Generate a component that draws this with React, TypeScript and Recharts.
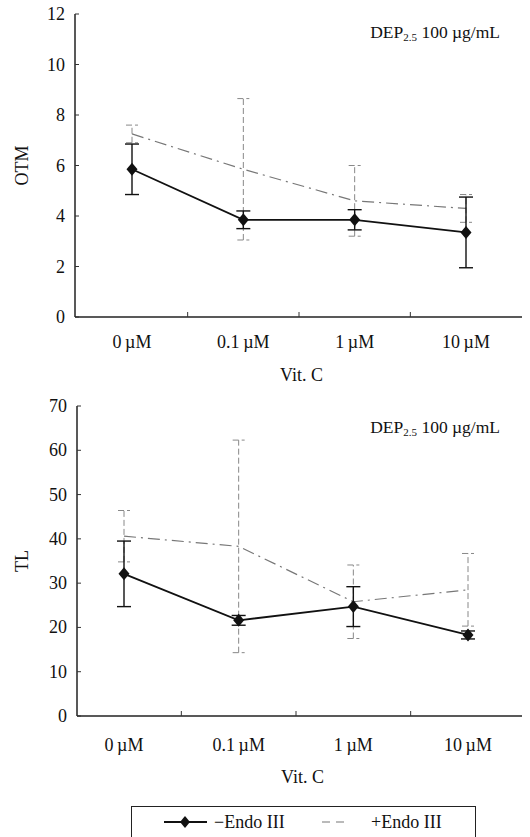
import React from 'react'
import { LineChart, Line, XAxis, YAxis, ErrorBar, Legend, Customized } from 'recharts'

// Vit. C concentrations
const concentrations = ['0\u2009µM', '0.1\u2009µM', '1\u2009µM', '10\u2009µM']

// OTM (top panel)
const otmMinus = [5.85, 3.85, 3.85, 3.35]
const otmMinusErr = [1.0, 0.35, 0.4, 1.4]
const otmPlus = [7.25, 5.85, 4.6, 4.3]
const otmPlusErr = [0.35, 2.8, 1.4, 0.55]
const otmTicks = [0, 2, 4, 6, 8, 10, 12]

// TL (bottom panel)
const tlMinus = [32.1, 21.6, 24.7, 18.3]
const tlMinusErr = [7.4, 1.1, 4.5, 0.9]
const tlPlus = [40.6, 38.3, 25.8, 28.5]
const tlPlusErr = [5.8, 24, 8.3, 8.2]
const tlTicks = [0, 10, 20, 30, 40, 50, 60, 70]

const FONT = '"Liberation Serif", "Times New Roman", serif'
const INK = '#111'

function buildRows(minus: number[], minusErr: number[], plus: number[], plusErr: number[]) {
  return concentrations.map((c, i) => ({
    conc: c,
    minus: minus[i],
    minusErr: minusErr[i],
    plus: plus[i],
    plusErr: plusErr[i],
  }))
}

function Diamond(props: any) {
  const { cx, cy } = props
  if (cx == null || cy == null) return null
  const r = 6.5
  return <polygon points={`${cx},${cy - r} ${cx + r - 1},${cy} ${cx},${cy + r} ${cx - r + 1},${cy}`} fill={INK} />
}

function YTick(props: any) {
  const { x, y, payload } = props
  return (
    <g>
      <text x={x} y={y} dy={6} textAnchor="end" fontSize={18} fontFamily={FONT} fill={INK}>
        {payload.value}
      </text>
      <line x1={x + 10} x2={x + 14} y1={y} y2={y} stroke="#333" />
    </g>
  )
}

function makeXTick(step: number, dy: number) {
  return (props: any) => {
    const { x, y, payload, index } = props
    return (
      <g>
        <text x={x} y={y + dy} textAnchor="middle" fontSize={18} fontFamily={FONT} fill={INK}>
          {payload.value}
        </text>
        {index < concentrations.length - 1 && (
          <line x1={x + step / 2} x2={x + step / 2} y1={y} y2={y - 5} stroke="#333" />
        )}
      </g>
    )
  }
}

function YLabel(props: any) {
  const { viewBox, value } = props
  const cx = viewBox.x + 12
  const cy = viewBox.y + viewBox.height / 2
  return (
    <text x={cx} y={cy} transform={`rotate(-90 ${cx} ${cy})`} textAnchor="middle" dominantBaseline="central"
      fontSize={18} fontFamily={FONT} fill={INK}>
      {value}
    </text>
  )
}

function XLabel(props: any) {
  const { viewBox, value, gap } = props
  return (
    <text x={viewBox.x + viewBox.width / 2 + 3} y={viewBox.y + gap} textAnchor="middle" dominantBaseline="central"
      fontSize={18} fontFamily={FONT} fill={INK}>
      {value}
    </text>
  )
}

function Note() {
  return (
    <text x={500} y={38} textAnchor="end" fontSize={17.5} fontFamily={FONT} fill={INK}>
      DEP<tspan fontSize={11} dy={3}>2.5</tspan>
      <tspan dy={-3}> 100 µg/mL</tspan>
    </text>
  )
}

function LegendBox(props: any) {
  const items = props.payload || []
  const minus = items.find((p: any) => p.dataKey === 'minus')
  const plus = items.find((p: any) => p.dataKey === 'plus')
  return (
    <div style={{ border: '1.5px solid #222', width: 345, height: 44, boxSizing: 'border-box', position: 'relative', fontFamily: FONT, fontSize: 18, color: INK }}>
      <svg width={345} height={44} style={{ position: 'absolute', left: 0, top: 0 }}>
        <line x1={32} x2={75} y1={15} y2={15} stroke={INK} strokeWidth={1.8} />
        <polygon points="53,9 58,15 53,21 48,15" fill={INK} />
        <text x={82} y={21} fontSize={18} fontFamily={FONT} fill={INK}>{minus ? minus.value : ''}</text>
        <line x1={190} x2={217} y1={15} y2={15} stroke="#777" strokeWidth={1.2} strokeDasharray="8 6" />
        <text x={239} y={21} fontSize={18} fontFamily={FONT} fill={INK}>{plus ? plus.value : ''}</text>
      </svg>
    </div>
  )
}

interface PanelProps {
  rows: any[]
  ticks: number[]
  yLabel: string
  height: number
  top: number
  plotH: number
  yAxisW: number
  padL: number
  padR: number
  tickDy: number
  xLabelGap: number
  legend?: boolean
}

function Panel({ rows, ticks, yLabel, height, top, plotH, yAxisW, padL, padR, tickDy, xLabelGap, legend }: PanelProps) {
  const left = 10
  const right = 8
  const plotW = 530 - left - yAxisW - right
  const step = (plotW - padL - padR) / (concentrations.length - 1)
  const xAxisH = height - top - plotH
  return (
    <LineChart width={530} height={height} data={rows} margin={{ top, right, bottom: 0, left }}>
      <XAxis
        dataKey="conc"
        padding={{ left: padL, right: padR }}
        axisLine={{ stroke: '#222', strokeWidth: 1.5 }}
        tickLine={false}
        tickSize={0}
        tickMargin={0}
        height={xAxisH}
        interval={0}
        tick={makeXTick(step, tickDy)}
        label={<XLabel value="Vit. C" gap={xLabelGap} />}
      />
      <XAxis xAxisId="frame" orientation="top" dataKey="conc" height={0} tick={false} tickLine={false}
        axisLine={{ stroke: '#999', strokeDasharray: '10 4' }} />
      <YAxis
        domain={[0, ticks[ticks.length - 1]]}
        ticks={ticks}
        width={yAxisW}
        axisLine={{ stroke: '#222', strokeWidth: 1.5 }}
        tickLine={false}
        tickSize={0}
        tickMargin={10}
        interval={0}
        tick={<YTick />}
        label={<YLabel value={yLabel} />}
      />
      <YAxis yAxisId="frame" orientation="right" width={0} tick={false} tickLine={false}
        axisLine={{ stroke: '#aaa', strokeWidth: 1.5 }} />
      <Line dataKey="plus" name="+Endo III" stroke="#777" strokeWidth={1.2} strokeDasharray="12 5 2 5"
        dot={false} activeDot={false} isAnimationActive={false}>
        <ErrorBar dataKey="plusErr" width={6} stroke="#888" strokeWidth={1} strokeDasharray="6 3" isAnimationActive={false} />
      </Line>
      <Line dataKey="minus" name="−Endo III" stroke={INK} strokeWidth={1.8}
        dot={<Diamond />} activeDot={false} isAnimationActive={false}>
        <ErrorBar dataKey="minusErr" width={7} stroke={INK} strokeWidth={1.4} isAnimationActive={false} />
      </Line>
      <Customized component={Note} />
      {legend && (
        <Legend layout="horizontal" verticalAlign="middle" align="center"
          wrapperStyle={{ top: 411, left: 131, width: 345, height: 44 }}
          content={<LegendBox />} />
      )}
    </LineChart>
  )
}

export default function App() {
  const otmRows = buildRows(otmMinus, otmMinusErr, otmPlus, otmPlusErr)
  const tlRows = buildRows(tlMinus, tlMinusErr, tlPlus, tlPlusErr)
  return (
    <div style={{ position: 'absolute', left: 0, top: 0, width: 530, background: '#fff' }}>
      <Panel rows={otmRows} ticks={otmTicks} yLabel="OTM" height={395} top={14} plotH={303}
        yAxisW={65} padL={57} padR={56} tickDy={31} xLabelGap={58} />
      <Panel rows={tlRows} ticks={tlTicks} yLabel="TL" height={442} top={11} plotH={310}
        yAxisW={67} padL={47} padR={54} tickDy={35} xLabelGap={61} legend />
    </div>
  )
}
